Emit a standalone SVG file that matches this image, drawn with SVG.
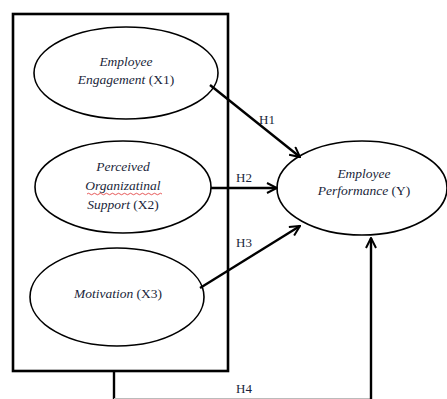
<svg xmlns="http://www.w3.org/2000/svg" width="447" height="399" viewBox="0 0 447 399">
<style>
.bg{fill:#fff}
.ell{fill:#fff;stroke:#000;stroke-width:1.6}
.box{fill:none;stroke:#000;stroke-width:2.6}
.t{font-family:"Liberation Serif","Times New Roman",serif;font-size:13.5px;fill:#1a1f3a;text-anchor:middle}
.i{font-style:italic}
.lbl{font-family:"Liberation Serif","Times New Roman",serif;font-size:13px;fill:#1a1f3a;text-anchor:middle}
.c{fill:none;stroke:#000;stroke-width:2.4}
</style>
<defs>
<marker id="ah" viewBox="0 0 12 12" refX="11" refY="6" markerWidth="12" markerHeight="12" markerUnits="userSpaceOnUse" orient="auto">
<path d="M1,1 L11,6 L1,11" fill="none" stroke="#000" stroke-width="2"/>
</marker>
</defs>
<rect class="bg" width="447" height="399"/>
<g id="frame">
<rect class="box" x="13" y="14" width="215" height="357"/>
</g>
<g id="x1">
<ellipse class="ell" cx="126" cy="73" rx="92" ry="46"/>
<text class="t" x="126" y="66"><tspan class="i">Employee</tspan></text>
<text class="t" x="126" y="84"><tspan class="i">Engagement</tspan> (X1)</text>
</g>
<g id="x2">
<ellipse class="ell" cx="123" cy="187" rx="88" ry="46"/>
<text class="t" x="123" y="171"><tspan class="i">Perceived</tspan></text>
<text class="t" x="123" y="190"><tspan class="i">Organizatinal</tspan></text>
<path d="M87,194 q1.5,-1.5 3,0 t3,0 t3,0 t3,0 t3,0 t3,0 t3,0 t3,0 t3,0 t3,0 t3,0 t3,0 t3,0 t3,0 t3,0 t3,0 t3,0 t3,0 t3,0 t3,0 t3,0 t3,0 t3,0 t3,0 t3,0" fill="none" stroke="#e03030" stroke-width="0.8"/>
<text class="t" x="123" y="209"><tspan class="i">Support</tspan> (X2)</text>
</g>
<g id="x3">
<ellipse class="ell" cx="117" cy="297" rx="87" ry="49"/>
<text class="t" x="118" y="298"><tspan class="i">Motivation</tspan> (X3)</text>
</g>
<g id="y">
<ellipse class="ell" cx="362" cy="188" rx="85" ry="47"/>
<text class="t" x="364" y="178"><tspan class="i">Employee</tspan></text>
<text class="t" x="364" y="195"><tspan class="i">Performance</tspan> (Y)</text>
</g>
<g id="connectors">
<line class="c" x1="210" y1="85" x2="300" y2="157" marker-end="url(#ah)"/>
<line class="c" x1="211" y1="188" x2="277" y2="188" marker-end="url(#ah)"/>
<line class="c" x1="200" y1="288" x2="300" y2="226" marker-end="url(#ah)"/>
<polyline class="c" points="114,371 114,399"/>
<line x1="114" y1="398.5" x2="371" y2="398.5" stroke="#bbb" stroke-width="1"/>
<line class="c" x1="371" y1="399" x2="371" y2="238" marker-end="url(#ah)"/>
<text class="lbl" x="267" y="124">H1</text>
<text class="lbl" x="244" y="182">H2</text>
<text class="lbl" x="244" y="247">H3</text>
<text class="lbl" x="244" y="393">H4</text>
</g>
</svg>
